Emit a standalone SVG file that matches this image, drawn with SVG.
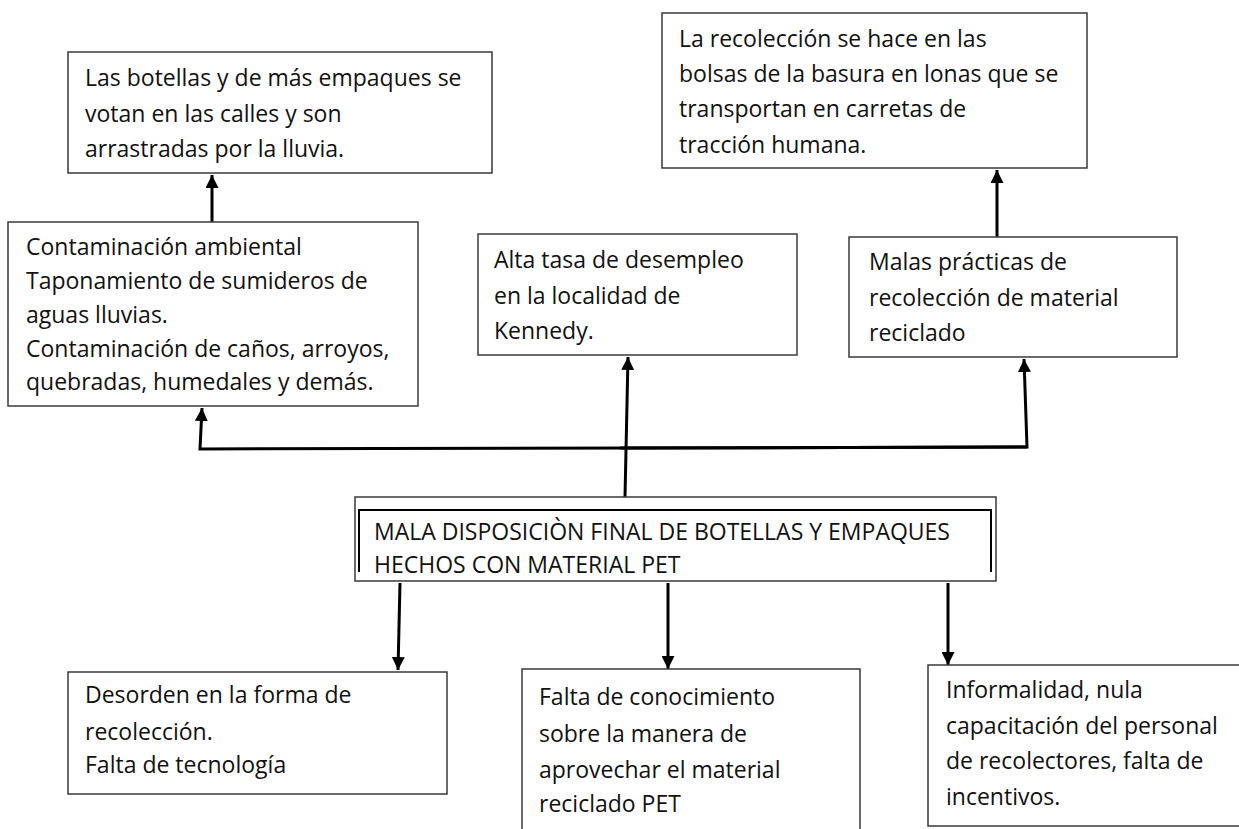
<svg xmlns="http://www.w3.org/2000/svg" width="1239" height="829" viewBox="0 0 1239 829">
<defs>
<style>
.box{fill:#fff;stroke:#3a3a3a;stroke-width:1.5}
.t{font-family:"Open Sans","Liberation Sans",sans-serif;font-size:23px;fill:#111}
.c{fill:none;stroke:#000;stroke-width:3;marker-end:url(#ah)}
.l{fill:none;stroke:#000;stroke-width:3}
</style>
<marker id="ah" viewBox="0 0 12 12" refX="12" refY="6" markerWidth="13" markerHeight="13" markerUnits="userSpaceOnUse" orient="auto">
<path d="M0,0 L12,6 L0,12 z" fill="#000"/>
</marker>
</defs>
<rect width="1239" height="829" fill="#fff"/>

<g id="connectors">
<path class="c" d="M212,222 L212,175"/>
<path class="c" d="M625,497 L628,357"/>
<path class="c" d="M1027,447 L200,449 L202,408"/>
<path class="c" d="M620,448 L1027,447 L1024,359"/>
<path class="c" d="M997,237 L997,170"/>
<path class="c" d="M400,583 L398,670"/>
<path class="c" d="M668,583 L668,669"/>
<path class="c" d="M948,583 L948,665"/>
</g>

<g id="n1">
<rect class="box" x="68" y="52" width="424" height="121"/>
<text class="t" x="85" y="86">Las botellas y de más empaques se</text>
<text class="t" x="85" y="122">votan en las calles y son</text>
<text class="t" x="85" y="157">arrastradas por la lluvia.</text>
</g>

<g id="n2">
<rect class="box" x="8" y="222" width="410" height="184"/>
<text class="t" x="26" y="255">Contaminación ambiental</text>
<text class="t" x="26" y="289">Taponamiento de sumideros de</text>
<text class="t" x="26" y="323">aguas lluvias.</text>
<text class="t" x="26" y="357">Contaminación de caños, arroyos,</text>
<text class="t" x="26" y="390">quebradas, humedales y demás.</text>
</g>

<g id="n3">
<rect class="box" x="478" y="234" width="319" height="121"/>
<text class="t" x="494" y="268">Alta tasa de desempleo</text>
<text class="t" x="494" y="304">en la localidad de</text>
<text class="t" x="494" y="339">Kennedy.</text>
</g>

<g id="n4">
<rect class="box" x="662" y="13" width="425" height="155"/>
<text class="t" x="679" y="47">La recolección se hace en las</text>
<text class="t" x="679" y="82">bolsas de la basura en lonas que se</text>
<text class="t" x="679" y="117">transportan en carretas de</text>
<text class="t" x="679" y="153">tracción humana.</text>
</g>

<g id="n5">
<rect class="box" x="849" y="237" width="328" height="120"/>
<text class="t" x="869" y="270">Malas prácticas de</text>
<text class="t" x="869" y="306">recolección de material</text>
<text class="t" x="869" y="341">reciclado</text>
</g>

<g id="n0">
<rect class="box" x="355" y="497" width="641" height="84"/>
<path class="l" d="M359,572 L359,510 L991,510 L991,572" style="stroke-width:2"/>
<text class="t" x="374" y="540">MALA DISPOSICIÒN FINAL DE BOTELLAS Y EMPAQUES</text>
<text class="t" x="374" y="573">HECHOS CON MATERIAL PET</text>
</g>

<g id="n6">
<rect class="box" x="68" y="672" width="379" height="122"/>
<text class="t" x="85" y="703">Desorden en la forma de</text>
<text class="t" x="85" y="740">recolección.</text>
<text class="t" x="85" y="773">Falta de tecnología</text>
</g>

<g id="n7">
<rect class="box" x="522" y="669" width="338" height="180"/>
<text class="t" x="539" y="705">Falta de conocimiento</text>
<text class="t" x="539" y="742">sobre la manera de</text>
<text class="t" x="539" y="778">aprovechar el material</text>
<text class="t" x="539" y="812">reciclado PET</text>
</g>

<g id="n8">
<rect class="box" x="928" y="665" width="320" height="161"/>
<text class="t" x="946" y="698">Informalidad, nula</text>
<text class="t" x="946" y="734">capacitación del personal</text>
<text class="t" x="946" y="769">de recolectores, falta de</text>
<text class="t" x="946" y="805">incentivos.</text>
</g>
</svg>
